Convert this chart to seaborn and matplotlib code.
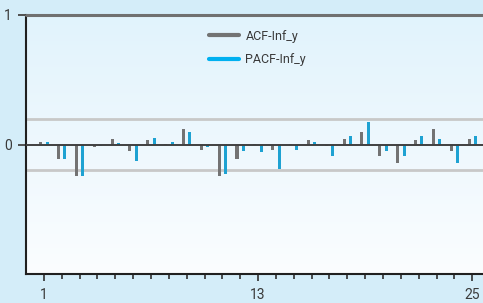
import numpy as np
import pandas as pd
import matplotlib.pyplot as plt
import seaborn as sns
from matplotlib.colors import LinearSegmentedColormap
from matplotlib.lines import Line2D

# correlogram values
lags = list(range(1, 26))
acf = [0.02, -0.11, -0.24, -0.02, 0.045, -0.05, 0.035, 0.005, 0.12, -0.04,
       -0.245, -0.11, 0.005, -0.04, 0.005, 0.035, -0.01, 0.045, 0.10, -0.085,
       -0.14, 0.035, 0.12, -0.05, 0.045]
pacf = [0.02, -0.11, -0.24, -0.015, 0.015, -0.125, 0.05, 0.02, 0.10, -0.02,
        -0.225, -0.05, -0.055, -0.19, -0.04, 0.02, -0.085, 0.065, 0.17, -0.05,
        -0.085, 0.065, 0.045, -0.14, 0.065]
series_names = ['ACF-Inf_y', 'PACF-Inf_y']
conf = 0.2
tick_labels = {1: '1', 13: '13', 25: '25'}

gray = '#737373'
blue = '#00b0f0'
text_col = '#3a3a3a'

df = pd.DataFrame({
    'lag': lags * 2,
    'value': acf + pacf,
    'series': [series_names[0]] * len(lags) + [series_names[1]] * len(lags),
})

sns.set_style('white')
plt.rcParams['font.family'] = ['Roboto', 'DejaVu Sans']

fig = plt.figure(figsize=(4.83, 3.03), dpi=100)
fig.patch.set_facecolor('#d4edf9')
ax = fig.add_axes([26 / 483, 29 / 303, 457 / 483, 259 / 303])

# gradient background of the plot area
cmap = LinearSegmentedColormap.from_list('bg', ['#fbfdff', '#e1f3fc'])
ax.imshow(np.linspace(0, 1, 256).reshape(-1, 1), cmap=cmap, origin='lower',
          extent=[0, 1, 0, 1], transform=ax.transAxes, aspect='auto', zorder=0)

sns.barplot(data=df, x='lag', y='value', hue='series', native_scale=True,
            palette=[gray, blue], width=0.72, gap=0.53, dodge=True,
            linewidth=0, legend=False, ax=ax, zorder=3)

ax.axhline(conf, color='#c8c8c8', lw=2, zorder=2)
ax.axhline(-conf, color='#c8c8c8', lw=2, zorder=2)
ax.axhline(0, color='#404040', lw=1.4, zorder=4)
ax.axhline(1, color='#707070', lw=2.2, zorder=4, clip_on=False)

ax.set_xlim(0, 25.6)
ax.set_ylim(-1, 1)

ax.set_yticks([0, 1])
ax.set_yticklabels(['0', '1'])
ax.tick_params(axis='y', length=6, width=1.4, color='#505050', pad=4,
               labelsize=10, labelcolor=text_col, left=True)

ax.set_xticks(lags, minor=True)
ax.set_xticks(list(tick_labels.keys()))
ax.set_xticklabels(list(tick_labels.values()))
ax.tick_params(axis='x', which='major', length=5, width=1.2, color='#303030',
               pad=5, labelsize=10, labelcolor=text_col, bottom=True)
ax.tick_params(axis='x', which='minor', length=3.5, width=1.2,
               color='#303030', bottom=True)

ax.set_xlabel('')
ax.set_ylabel('')
for side in ['top', 'right']:
    ax.spines[side].set_visible(False)
for side in ['left', 'bottom']:
    ax.spines[side].set_color('#202020')
    ax.spines[side].set_linewidth(1.5)

handles = [Line2D([0], [0], color=gray, lw=3), Line2D([0], [0], color=blue, lw=3)]
ax.legend(handles, series_names, loc='upper left', bbox_to_anchor=(0.39, 0.962),
          frameon=False, fontsize=9, handlelength=2.4, handletextpad=0.5,
          labelspacing=0.85, borderaxespad=0, labelcolor=text_col)

fig.savefig('out.png', dpi=100, facecolor=fig.get_facecolor())
